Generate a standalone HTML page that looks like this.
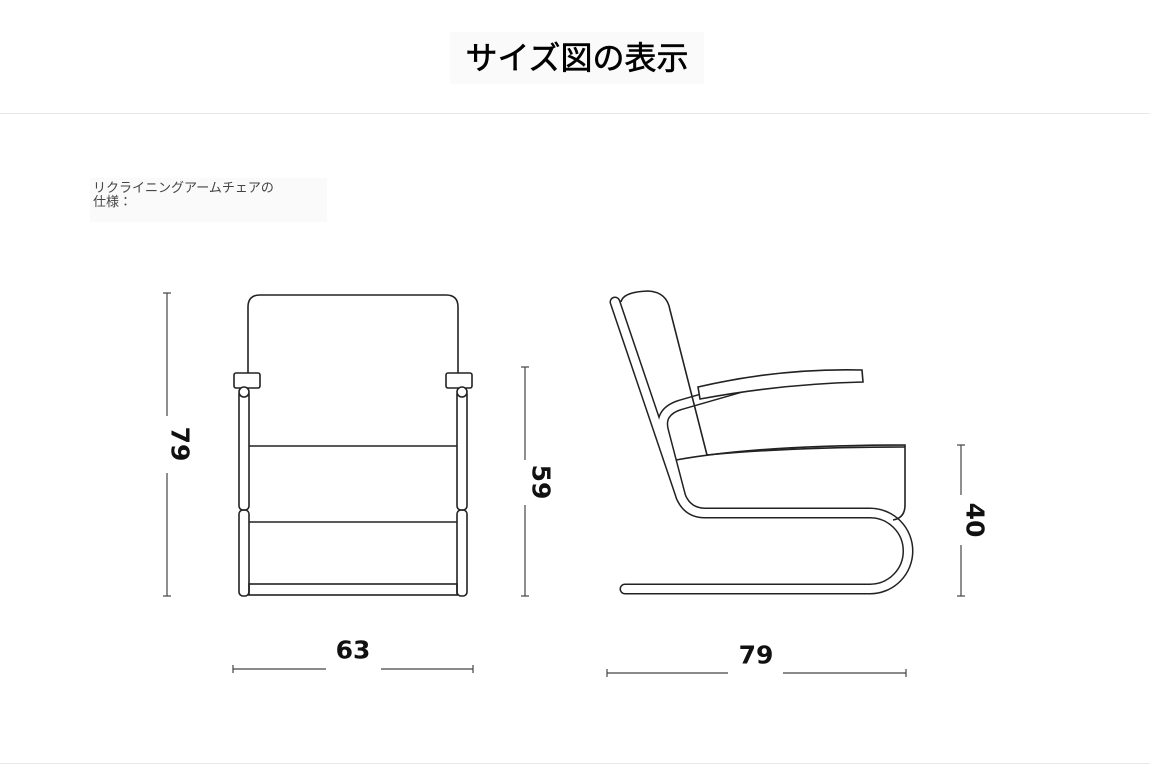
<!DOCTYPE html>
<html><head><meta charset="utf-8"><style>
body{margin:0;width:1150px;height:765px;background:#fff;position:relative;overflow:hidden;font-family:"Liberation Sans","Noto Sans CJK JP",sans-serif}
.t{position:absolute;left:450px;top:32px;width:254px;height:52px;background:#fafafa;font-size:32px;font-weight:normal;-webkit-text-stroke:0.6px #000;line-height:52px;text-align:center;color:#000}
.hr{position:absolute;left:0;width:1150px;height:1px;background:#e8e8e8}
.s{position:absolute;left:90px;top:178px;width:237px;height:44px;background:#fafafa;font-size:13px;line-height:14px;color:#444;padding-left:3px;box-sizing:border-box;padding-top:3px}
.n{position:absolute;font-weight:bold;font-size:25px;color:#111;font-family:"DejaVu Sans",sans-serif}
</style></head><body>
<div class="t">サイズ図の表示</div>
<div class="hr" style="top:113px"></div>
<div class="hr" style="top:763px"></div>
<div class="s">リクライニングアームチェアの<br>仕様：</div>
<svg width="1150" height="765" style="position:absolute;left:0;top:0" fill="none" stroke="#222" stroke-width="1.6">
<g stroke="#444" stroke-width="1.2">
<line x1="167" y1="293" x2="167" y2="416"/><line x1="167" y1="473" x2="167" y2="596"/>
<line x1="163" y1="293" x2="171" y2="293"/><line x1="163" y1="596" x2="171" y2="596"/>
<line x1="525" y1="367" x2="525" y2="460"/><line x1="525" y1="505" x2="525" y2="596"/>
<line x1="521" y1="367" x2="529" y2="367"/><line x1="521" y1="596" x2="529" y2="596"/>
<line x1="961" y1="445" x2="961" y2="495"/><line x1="961" y1="545" x2="961" y2="596"/>
<line x1="957" y1="445" x2="965" y2="445"/><line x1="957" y1="596" x2="965" y2="596"/>
<line x1="233" y1="669" x2="326" y2="669"/><line x1="381" y1="669" x2="473" y2="669"/>
<line x1="233" y1="665" x2="233" y2="673"/><line x1="473" y1="665" x2="473" y2="673"/>
<line x1="607" y1="673" x2="728" y2="673"/><line x1="783" y1="673" x2="906" y2="673"/>
<line x1="607" y1="669" x2="607" y2="677"/><line x1="906" y1="669" x2="906" y2="677"/>
</g>
<path d="M248,373 L248,307 Q248,295 260,295 L446,295 Q458,295 458,307 L458,373"/>
<rect x="234" y="373" width="26" height="15" rx="2"/>
<rect x="446" y="373" width="26" height="15" rx="2"/>
<rect x="239" y="390" width="10" height="120" rx="4"/>
<rect x="457" y="390" width="10" height="120" rx="4"/>
<rect x="239" y="510" width="10" height="86" rx="4"/>
<rect x="457" y="510" width="10" height="86" rx="4"/>
<circle cx="244" cy="392" r="5" fill="#fff"/><circle cx="462" cy="392" r="5" fill="#fff"/>
<line x1="249" y1="446" x2="457" y2="446"/>
<line x1="249" y1="522" x2="457" y2="522"/>
<rect x="249" y="584" width="208" height="11"/>
<g stroke="#222" stroke-width="11" stroke-linecap="round" stroke-linejoin="round">
<path d="M615,302 L681,497 Q688,513 705,513 L870,513 A38,38 0 0 1 870,589 L625,589"/>
<path d="M681,497 L664,432 Q658,412 680,405 L760,382 Q805,374 850,376"/>
</g>
<g stroke="#fff" stroke-width="8" stroke-linecap="round" stroke-linejoin="round">
<path d="M615,302 L681,497 Q688,513 705,513 L870,513 A38,38 0 0 1 870,589 L625,589"/>
<path d="M681,497 L664,432 Q658,412 680,405 L760,382 Q805,374 850,376"/>
</g>
<path d="M621,302 Q623,292 648,291 Q667,292 670,310 L707,455" />
<path d="M676,460 Q760,445 905,445 L905,505 Q905,518 893,520"/>
<path d="M707,455 Q790,447 905,447"/>
<path d="M698,387 Q780,368 862,370 L863,382 Q780,384 700,399 Z" fill="#fff"/>
</svg>
<div class="n" style="left:180px;top:444px;transform:translate(-50%,-50%) rotate(90deg)">79</div>
<div class="n" style="left:541px;top:482px;transform:translate(-50%,-50%) rotate(90deg)">59</div>
<div class="n" style="left:975px;top:520px;transform:translate(-50%,-50%) rotate(90deg)">40</div>
<div class="n" style="left:353px;top:650px;transform:translate(-50%,-50%)">63</div>
<div class="n" style="left:756px;top:655px;transform:translate(-50%,-50%)">79</div>
</body></html>
